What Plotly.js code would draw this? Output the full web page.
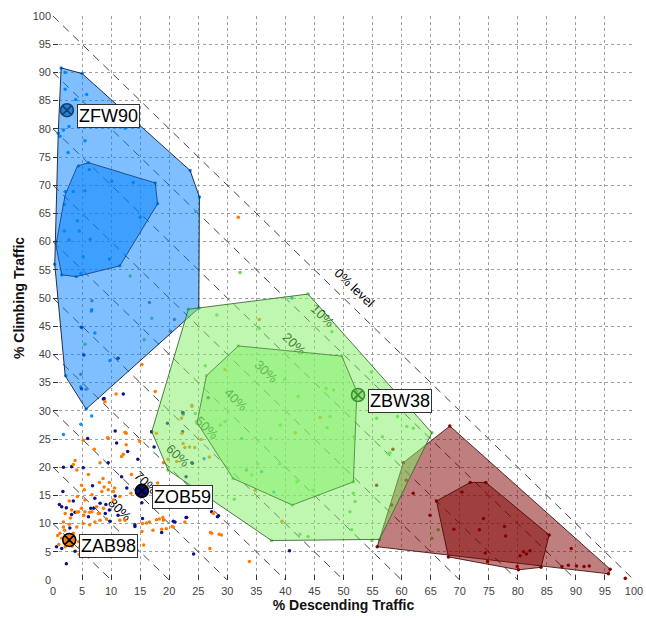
<!DOCTYPE html>
<html>
<head>
<meta charset="utf-8">
<script src="https://cdn.plot.ly/plotly-3.0.1.min.js"></script>
<style>html,body{margin:0;padding:0;background:#fff;}#chart{width:646px;height:618px;}</style>
</head>
<body>
<div id="chart"></div>
<script>
// ---- data ----
var levelSums = [10, 20, 30, 40, 50, 60, 70, 80, 90, 100];
var levelText = ['0% level', '10%', '20%', '30%', '40%', '50%', '60%', '70%', '80%'];
var levelCx = [52.0, 46.5, 41.65, 36.8, 31.6, 26.6, 21.6, 16.1, 11.6];
var levelCy = [51.95, 47.0, 41.97, 37.1, 32.1, 27.1, 22.2, 17.4, 12.6];

var grayX = [6.7, 16.6, 20.9, 20.2, 4.8, 5.7];
var grayY = [49.5, 49.2, 46.2, 44.1, 36.5, 33.8];

var navyX = [5.96, 10.95, 12.85, 14.6, 9.5, 1.8, 3.2, 5.2, 11.8, 6.8, 12.7, 10.7, 1.7, 7.2, 1.1, 3.5, 8.1, 6.5, 9.1, 2.3, 3.8, 9.7, 3.2,
  1.5, 6.1, 7.0, 9.0, 9.8, 2.9, 0.6, 1.5, 3.8, 2.3, 11.2, 14.1,
  4.9, 11.2, 8.66, 12.1, 10.7, 17.4, 20.7, 18.7, 15.3, 15.4, 14.1, 22.9, 24.2, 28.3, 40.7, 22.3, 22.3, 24.0, 22.9,
  19.7, 23.9, 28.5, 27.3, 23.0, 21.0, 16.98, 26.7, 22.4, 5.3, 4.9, 8.8];
var navyY = [25.1, 24.3, 22.8, 21.4, 20.8, 20.0, 20.1, 19.9, 18.3, 16.7, 16.3, 14.9, 15.7, 14.5, 13.4, 14.0, 13.6, 12.7, 13.4, 12.8, 12.0, 12.4, 11.6,
  13.0, 11.2, 12.7, 11.8, 10.4, 9.2, 5.9, 5.6, 5.1, 2.9, 11.5, 9.8,
  44.8, 39.3, 32.1, 33.0, 26.4, 23.6, 10.4, 8.4, 13.7, 10.9, 9.5, 11.1, 4.6, 11.2, 5.2, 29.7, 26.3, 20.7, 18.3,
  27.8, 20.8, 11.4, 12.1, 11.1, 10.3, 26.3, 32.3, 29.6, 39.9, 33.9, 32.2];

var orangeX = [5.2, 9.5, 12.6, 14.9, 12.6, 7.1, 12.1, 11.8, 8.1, 3.8, 3.5, 4.1, 6.1, 13.5, 8.6, 8.0, 9.7, 8.8, 4.9, 10.6, 9.5, 10.4, 5.4, 8.4, 11.5, 13.4, 6.7, 5.5, 4.2, 2.8, 10.4, 7.5, 4.9, 5.5, 8.7, 6.3, 8.0, 4.1,
  2.1, 3.2, 4.4, 5.3, 6.7, 7.8, 9.2, 8.1, 7.2, 6.3, 5.2, 4.1, 1.8, 1.8, 1.2, 1.5, 2.1, 4.4, 4.6, 4.5, 3.5, 11.5, 12.4, 15.4, 16.6,
  15.3, 10.85, 17.6, 8.95, 12.4, 9.4, 19.0, 18.0, 19.0, 18.7, 17.2, 20.5, 18.3, 16.1, 15.3, 15.6, 22.7, 27.0, 28.6, 27.1, 27.6, 33.8, 22.1, 22.7, 23.5, 25.5, 26.9, 24.4,
  17.8, 19.8, 23.9, 22.2, 22.4, 21.3, 17.8, 18.9, 20.7, 19.5, 27.3, 29.0,
  29.6, 35.5, 23.9, 41.7, 46.0, 34.8, 39.4, 31.9,
  2.5, 3.3, 1.0, 2.0, 2.8, 3.0, 0.8];
var orangeY = [24.8, 25.1, 24.0, 24.6, 26.0, 23.2, 22.3, 21.9, 20.8, 21.2, 20.5, 19.5, 18.7, 18.7, 18.0, 17.3, 17.3, 16.5, 16.8, 16.3, 16.0, 15.7, 16.0, 15.7, 14.8, 15.4, 15.1, 14.2, 14.8, 14.0, 14.2, 13.0, 12.7, 12.1, 12.7, 12.0, 11.8, 12.0,
  11.8, 12.4, 12.1, 11.5, 12.1, 11.8, 10.8, 10.6, 10.3, 9.8, 10.0, 9.4, 10.3, 9.4, 8.3, 7.4, 5.9, 6.8, 5.9, 4.5, 8.3, 10.6, 10.6, 10.0, 10.3,
  38.2, 33.0, 33.4, 31.6, 26.2, 25.2, 20.8, 17.2, 10.6, 9.0, 8.8, 9.5, 10.8, 10.1, 8.6, 6.2, 10.3, 5.6, 8.1, 8.4, 11.8, 3.3, 28.7, 23.5, 23.6, 24.9, 21.8, 23.5,
  26.0, 21.4, 31.0, 26.0, 24.2, 21.0, 10.7, 11.1, 9.4, 9.1, 8.3, 8.0,
  37.3, 46.2, 30.8, 26.1, 28.8, 15.9, 10.4, 64.3,
  6.5, 6.0, 6.3, 8.8, 9.9, 11.0, 7.9];

var blueX = [1.4, 5.0, 2.1, 2.1, 3.9, 5.8, 1.8, 2.75, 1.2, 2.6, 5.5, 12.4, 23.6, 25.2, 6.25, 4.4, 10.1, 13.8, 17.6, 18.0, 15.0, 2.1, 3.5, 5.5, 1.95, 4.2, 1.95, 4.5, 2.75, 6.4, 5.2, 9.7, 11.5, 4.0, 1.5, 0.3, 4.8, 0.9,
  6.6, 7.2, 6.66, 9.8, 2.2, 5.7, 6.66, 4.8, 1.8, 4.8, 25.1, 6.1, 41.1, 32.5, 35.9, 33.3, 38.0, 26.0];
var blueY = [90.8, 89.8, 90.0, 87.0, 85.2, 86.1, 79.8, 80.4, 78.7, 75.8, 77.9, 80.1, 72.6, 67.9, 72.8, 73.4, 70.7, 70.5, 70.4, 66.7, 64.3, 68.9, 68.9, 69.0, 66.6, 63.7, 61.9, 61.9, 60.3, 60.4, 57.3, 56.9, 55.7, 53.8, 54.1, 56.0, 54.4, 79.2,
  47.7, 43.8, 47.9, 38.9, 36.2, 30.3, 29.1, 27.6, 25.8, 34.2, 48.2, 74.0, 50.0, 25.1, 19.2, 19.5, 15.6, 21.5];

var greenX = [23.3, 43.9, 65.2, 56.2, 37.6, 19.8, 17.0, 31.9, 49.7, 52.3, 51.7, 41.2, 31.0, 24.8, 26.4,
  28.2, 35.5, 48.0, 26.2, 39.9, 47.0, 48.3, 54.8, 42.2, 29.6, 28.8, 24.5, 37.5, 39.1, 47.2, 55.7, 59.3, 60.9, 57.7, 51.7, 51.1, 44.8, 42.0, 39.0, 35.2, 34.2, 31.2, 42.5, 43.9, 52.0, 54.9, 47.7, 51.8, 56.7, 62.0, 58.0, 51.4, 22.4, 24.7,
  13.3, 24.6, 32.2, 17.0, 15.7, 5.5, 66.3, 65.2];
var greenY = [48.0, 50.7, 26.1, 7.2, 7.0, 19.5, 26.3, 41.5, 39.7, 33.4, 17.4, 13.3, 18.0, 27.9, 36.2,
  47.0, 44.6, 44.0, 38.0, 35.6, 34.0, 33.7, 36.9, 32.6, 28.1, 27.5, 29.5, 25.1, 27.5, 27.0, 28.7, 29.0, 27.2, 22.4, 15.4, 12.1, 15.9, 17.4, 20.6, 20.6, 18.6, 14.3, 8.1, 7.7, 13.9, 7.0, 29.0, 25.4, 25.4, 26.9, 22.5, 8.9, 29.3, 28.1,
  53.9, 65.3, 54.5, 46.4, 42.6, 41.8, 8.9, 7.4];

var redX = [68.3, 95.9, 95.6, 55.8, 60.3, 66.0, 71.8, 74.5, 85.4, 84.0, 80.1, 68.05,
  62.0, 64.9, 70.4, 69.0, 74.1, 73.4, 77.7, 77.9, 74.4, 74.8, 80.4, 81.0, 82.1, 89.2, 87.6, 88.7, 90.1, 91.4, 92.3, 79.9, 98.5, 81.5,
  58.5, 55.7, 60.8, 58.3];
var redY = [27.3, 1.9, 1.1, 5.9, 20.8, 14.0, 17.3, 17.3, 8.0, 2.25, 1.8, 4.1,
  15.4, 11.5, 15.6, 9.0, 10.9, 8.9, 9.5, 7.8, 4.8, 3.3, 4.3, 5.0, 5.2, 5.6, 2.4, 2.6, 2.5, 2.4, 2.5, 2.4, 0.3, 4.6,
  23.2, 16.8, 17.7, 13.3];

// hull polygons
var zfwOuterX = [1.4, 5.0, 23.6, 25.2, 25.1, 5.7, 2.1, 0.3, 0.9];
var zfwOuterY = [90.8, 89.8, 72.6, 67.9, 48.2, 30.3, 36.2, 56.0, 79.2];
var zfwInnerX = [6.1, 17.6, 18.0, 11.5, 4.0, 1.5, 0.5, 2.1, 4.2];
var zfwInnerY = [74.0, 70.4, 66.7, 55.7, 53.8, 54.1, 59.4, 68.3, 73.4];
var zbwOuterX = [23.3, 43.9, 65.2, 56.2, 37.6, 19.8, 17.0];
var zbwOuterY = [48.0, 50.7, 26.1, 7.2, 7.0, 19.5, 26.3];
var zbwInnerX = [31.9, 49.7, 52.3, 51.7, 41.2, 31.0, 24.8, 26.4];
var zbwInnerY = [41.5, 39.7, 33.4, 17.4, 13.3, 18.0, 27.9, 36.2];
var redOuterX = [68.3, 95.9, 95.6, 55.8, 60.3];
var redOuterY = [27.3, 1.9, 1.1, 5.9, 20.8];
var redInnerX = [66.0, 71.8, 74.5, 85.4, 84.0, 80.1, 68.05];
var redInnerY = [14.0, 17.3, 17.3, 8.0, 2.25, 1.8, 4.1];

// highlighted facilities
var hlNames = ['ZFW90', 'ZBW38', 'ZOB59', 'ZAB98'];
var hlX = [2.4, 52.5, 15.3, 2.8];
var hlY = [83.3, 32.8, 15.8, 7.1];
var hlFill = ['#2a7fd0', 'rgba(110,210,90,0.55)', '#0a0a80', '#f07d10'];
var hlLine = ['#123e70', '#3f8f35', '#000000', '#000000'];

// ---- build ----
var FONT = 'Liberation Sans, Arial, Helvetica, sans-serif';
var traces = [];

// iso-level dashed lines x + y = s
var lx = [], ly = [];
levelSums.forEach(function (s) { lx.push(0, s, null); ly.push(s, 0, null); });
traces.push({x: lx, y: ly, mode: 'lines', type: 'scatter', hoverinfo: 'skip',
  line: {color: '#444', width: 1, dash: '8px,6px'}, showlegend: false});

function pts(x, y, c) {
  return {x: x, y: y, mode: 'markers', type: 'scatter', showlegend: false,
    marker: {size: 3.5, color: c, line: {width: 0}}};
}
traces.push(pts(blueX, blueY, '#0092ff'));
traces.push(pts(greenX, greenY, '#5fd94a'));
traces.push(pts(redX, redY, '#990000'));
traces.push(pts(grayX, grayY, '#7f7f7f'));
traces.push(pts(navyX, navyY, '#10108c'));
traces.push(pts(orangeX, orangeY, '#ff7a00'));

function poly(x, y, fill, edge) {
  return {x: x.concat([x[0]]), y: y.concat([y[0]]), mode: 'lines', type: 'scatter', fill: 'toself',
    fillcolor: fill, line: {color: edge, width: 1}, hoverinfo: 'skip', showlegend: false};
}
traces.push(poly(zfwOuterX, zfwOuterY, 'rgba(0,128,255,0.5)', 'rgba(15,30,55,0.9)'));
traces.push(poly(zfwInnerX, zfwInnerY, 'rgba(0,128,255,0.5)', 'rgba(20,70,130,0.9)'));
traces.push(poly(redOuterX, redOuterY, 'rgba(128,0,0,0.5)', 'rgba(70,20,20,0.9)'));
traces.push(poly(redInnerX, redInnerY, 'rgba(128,0,0,0.5)', 'rgba(80,10,10,0.9)'));
traces.push(poly(zbwOuterX, zbwOuterY, 'rgba(128,240,100,0.5)', 'rgba(60,110,50,0.9)'));
traces.push(poly(zbwInnerX, zbwInnerY, 'rgba(128,240,100,0.5)', 'rgba(80,140,65,0.9)'));

traces.push({x: hlX, y: hlY, mode: 'markers', type: 'scatter', showlegend: false, text: hlNames,
  marker: {symbol: 'circle-x', size: 13, color: hlFill, line: {color: hlLine, width: 1.6}}});

// level labels as shape labels (drawn beneath the traces)
var shapes = levelText.map(function (t, i) {
  return {type: 'line', xref: 'x', yref: 'y', layer: 'below',
    x0: levelCx[i] - 0.5, y0: levelCy[i] + 0.5, x1: levelCx[i] + 0.5, y1: levelCy[i] - 0.5,
    line: {width: 0, color: 'rgba(0,0,0,0)'},
    label: {text: t, textangle: 44, textposition: 'middle', xanchor: 'center', yanchor: 'middle',
      font: {family: FONT, size: 13, color: '#000'}}};
});

var annotations = hlNames.map(function (n, i) {
  return {x: hlX[i], y: hlY[i], xref: 'x', yref: 'y', text: n, showarrow: false,
    xanchor: 'left', yanchor: 'middle', xshift: 10, yshift: -6,
    bgcolor: '#ffffff', bordercolor: '#333', borderwidth: 1, borderpad: 1,
    font: {family: FONT, size: 18, color: '#000'}};
});

var axisCommon = {range: [0, 100], tick0: 0, dtick: 5, ticks: 'inside', ticklen: 5, tickcolor: '#333',
  showgrid: true, gridcolor: '#a0a0a0', griddash: 'dot', gridwidth: 1, zeroline: false, showline: false,
  tickfont: {family: FONT, size: 11, color: '#444'}, fixedrange: true};

var layout = {
  width: 646, height: 618,
  margin: {l: 53, r: 12, t: 16, b: 38},
  paper_bgcolor: '#fff', plot_bgcolor: '#fff',
  showlegend: false,
  font: {family: FONT},
  xaxis: Object.assign({}, axisCommon, {ticklabelstandoff: 3, title: {text: '% Descending Traffic', standoff: 4,
    font: {family: FONT, size: 14, color: '#111', weight: 'bold'}}}),
  yaxis: Object.assign({}, axisCommon, {ticklabelstandoff: 1, title: {text: '% Climbing Traffic', standoff: 4,
    font: {family: FONT, size: 14, color: '#111', weight: 'bold'}}}),
  shapes: shapes,
  annotations: annotations
};

Plotly.newPlot('chart', traces, layout, {displayModeBar: false, staticPlot: true});
</script>
</body>
</html>
